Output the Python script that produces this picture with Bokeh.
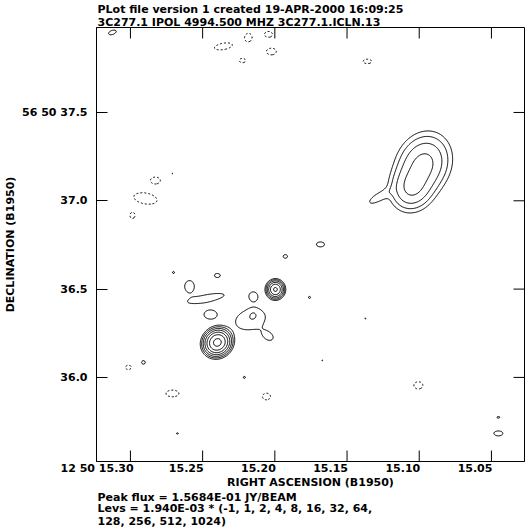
import numpy as np
from bokeh.plotting import figure
from bokeh.models import Range1d, FixedTicker, Title
from bokeh.embed import file_html
from bokeh.resources import INLINE

# ---------------- data ----------------
ra_ticks = [15.30, 15.25, 15.20, 15.15, 15.10, 15.05]
ra_tick_labels = ["12 50 15.30", "15.25", "15.20", "15.15", "15.10", "15.05"]
dec_ticks = [36.0, 36.5, 37.0, 37.5]
dec_tick_labels = ["36.0", "36.5", "37.0", "56 50 37.5"]

peak_flux = 1.5684e-01
base_level = 1.940e-03
level_factors = [-1, 1, 2, 4, 8, 16, 32, 64, 128, 256, 512, 1024]

# emission components read from the map: RA (s of 12h50m), Dec (arcsec of +56d50m),
# peak (in units of the base level), sigma major / minor (arcsec), position angle (deg)
comp_ra = [15.2398, 15.1996, 15.2169, 15.2148, 15.2044, 15.2446, 15.2474, 15.2591,
           15.2398, 15.1927, 15.2148, 15.2702, 15.1684, 15.0971, 15.1054, 15.1283,
           15.3125, 15.2709, 15.2211, 15.2675, 15.0452, 15.0452, 15.1760, 15.1373,
           15.1670, 15.2910,
           15.2183, 15.2044, 15.2356, 15.2024, 15.2224, 15.1359, 15.2827, 15.2896,
           15.2986, 15.3014, 15.2709, 15.2058, 15.1006]
comp_dec = [36.198, 36.498, 36.328, 36.362, 36.232, 36.356, 36.447, 36.515,
            36.577, 36.685, 36.459, 36.594, 36.753, 37.206, 37.070, 37.019,
            37.953, 37.155, 36.000, 35.683, 35.774, 35.683, 36.453, 36.334,
            36.096, 36.085,
            37.925, 37.942, 37.874, 37.845, 37.794, 37.789, 37.115, 37.013,
            36.917, 36.057, 35.909, 35.892, 35.955]
comp_peak = [80.0, 36.0, 1.8, 0.6, 1.25, 1.5, 1.5, 1.6,
             1.4, 1.3, 1.5, 1.1, 1.4, 10.0, 8.0, 1.6,
             1.4, 1.05, 1.1, 1.1, 1.15, 1.4, 1.1, 1.05,
             1.05, 1.2,
             -1.4, -1.4, -1.5, -1.4, -1.3, -1.3, -1.4, -1.5,
             -1.3, -1.3, -1.4, -1.4, -1.4]
comp_smaj = [0.034, 0.023, 0.079, 0.023, 0.040, 0.040, 0.113, 0.034,
             0.020, 0.017, 0.025, 0.014, 0.028, 0.091, 0.068, 0.057,
             0.028, 0.011, 0.014, 0.014, 0.017, 0.031, 0.014, 0.011,
             0.011, 0.017,
             0.028, 0.028, 0.057, 0.034, 0.025, 0.034, 0.034, 0.074,
             0.023, 0.023, 0.045, 0.028, 0.031]
comp_smin = [0.031, 0.022, 0.051, 0.023, 0.028, 0.028, 0.023, 0.028,
             0.014, 0.014, 0.025, 0.014, 0.017, 0.074, 0.062, 0.020,
             0.014, 0.0085, 0.014, 0.0085, 0.0085, 0.017, 0.014, 0.011,
             0.011, 0.017,
             0.025, 0.020, 0.020, 0.023, 0.017, 0.017, 0.023, 0.034,
             0.020, 0.017, 0.023, 0.023, 0.025]
comp_pa = [-50, 0, -75, 0, 60, 90, -79, 0,
           90, 90, 0, 0, 90, -25, -25, -60,
           -70, 90, 0, 90, 90, 90, 0, 0,
           0, 0,
           0, 90, -80, 90, 90, 90, 90, 80,
           0, 90, 90, 90, 90]

# ---------------- geometry ----------------
W, H = 526, 527
RA_LEFT, RA_RIGHT = 15.3235, 15.0271
DEC_BOT, DEC_TOP = 35.524, 37.981
IMG_L, IMG_R, IMG_T, IMG_B = 96, 524, 27, 461   # frame edges in pixels
px_per_ra = (IMG_R - IMG_L) / (RA_LEFT - RA_RIGHT)
px_per_dec = (IMG_B - IMG_T) / (DEC_TOP - DEC_BOT)

# ---------------- map ----------------
ra_scale = 15 * np.cos(np.radians(56 + 50 / 60 + 36.5 / 3600))
ra_grid = np.linspace(RA_RIGHT, RA_LEFT, 560)
dec_grid = np.linspace(DEC_BOT, DEC_TOP, 560)
X, Y = np.meshgrid(ra_grid, dec_grid)
Z = np.zeros_like(X)
for ra0, de0, pk, sa, sb, pa in zip(comp_ra, comp_dec, comp_peak, comp_smaj, comp_smin, comp_pa):
    dx = (X - ra0) * ra_scale
    dy = Y - de0
    t = np.radians(pa)
    u = dx * np.sin(t) + dy * np.cos(t)
    v = dx * np.cos(t) - dy * np.sin(t)
    Z += pk * np.exp(-0.5 * ((u / sa) ** 2 + (v / sb) ** 2))
Z *= base_level

pos_levels = [f * base_level for f in level_factors if f > 0]
neg_levels = [f * base_level for f in level_factors if f < 0]

FONT = "DejaVu Sans"
FS = "11px"

p = figure(width=W, height=H,
           x_range=Range1d(RA_LEFT, RA_RIGHT), y_range=Range1d(DEC_BOT, DEC_TOP),
           output_backend="svg", toolbar_location=None, title_location=None,
           min_border_left=IMG_L, min_border_right=W - IMG_R,
           min_border_top=IMG_T, min_border_bottom=H - IMG_B)
p.outline_line_color = "black"
p.outline_line_width = 1
p.grid.visible = False
p.background_fill_color = "white"
p.border_fill_color = "white"

p.contour(ra_grid, dec_grid, Z, levels=pos_levels, line_color="black", line_width=1)
p.contour(ra_grid, dec_grid, Z, levels=neg_levels, line_color="black", line_width=1,
          line_dash="2 2")

# inward ticks on top, bottom and right edges
tlx = 11 / px_per_ra
tly = 11 / px_per_dec
n = len(ra_ticks)
p.segment(x0=ra_ticks, y0=[DEC_TOP] * n, x1=ra_ticks, y1=[DEC_TOP - tly] * n,
          line_color="black", line_width=1)
p.segment(x0=ra_ticks, y0=[DEC_BOT] * n, x1=ra_ticks, y1=[DEC_BOT + tly] * n,
          line_color="black", line_width=1)
m = len(dec_ticks)
p.segment(x0=[RA_RIGHT] * m, y0=dec_ticks, x1=[RA_RIGHT + tlx] * m, y1=dec_ticks,
          line_color="black", line_width=1)


def font_axis(ax):
    ax.major_label_text_font = FONT
    ax.major_label_text_font_style = "bold"
    ax.major_label_text_font_size = FS
    ax.major_label_text_color = "black"
    ax.axis_label_text_font = FONT
    ax.axis_label_text_font_style = "bold"
    ax.axis_label_text_font_size = FS
    ax.axis_label_text_color = "black"
    ax.minor_tick_line_color = None
    ax.axis_line_color = "black"


# left axis: inward ticks with labels
for ax in p.yaxis:
    font_axis(ax)
    ax.ticker = FixedTicker(ticks=dec_ticks)
    ax.major_label_overrides = {t: s for t, s in zip(dec_ticks, dec_tick_labels)}
    ax.major_tick_in = 11
    ax.major_tick_out = 0
    ax.major_tick_line_color = "black"
    ax.major_label_standoff = 9
    ax.axis_label = "DECLINATION (B1950)"
    ax.axis_label_standoff = 2

# bottom axis: labels right-aligned to their ticks (AIPS style)
ADV = {" ": 0.348, ".": 0.380}
fs_px = 11


def text_w(s):
    return sum(ADV.get(c, 0.696) for c in s) * fs_px


label_pos = []
for t, s in zip(ra_ticks, ra_tick_labels):
    pos = t + (text_w(s) / 2 - 1) / px_per_ra
    pos = min(pos, RA_LEFT - 0.6 / px_per_ra)
    label_pos.append(round(pos, 6))
for ax in p.xaxis:
    font_axis(ax)
    ax.ticker = FixedTicker(ticks=label_pos)
    ax.major_label_overrides = {t: s for t, s in zip(label_pos, ra_tick_labels)}
    ax.major_tick_line_color = None
    ax.major_tick_in = 0
    ax.major_tick_out = 0
    ax.major_label_standoff = 0
    ax.axis_label = "RIGHT ASCENSION (B1950)"
    ax.axis_label_standoff = -2


def title(text, side, standoff):
    p.add_layout(Title(text=text, align="left", offset=1, standoff=standoff,
                       text_font=FONT, text_font_size=FS, text_font_style="bold",
                       text_color="black"), side)


title("PLot file version 1  created 19-APR-2000 16:09:25\n"
      "3C277.1  IPOL  4994.500 MHZ  3C277.1.ICLN.13", "above", -2)

pos_txt = ", ".join(str(f) for f in level_factors[:8])
rest_txt = ", ".join(str(f) for f in level_factors[8:])
# below: first added sits next to the axis
title(f"Peak flux =  {peak_flux:.4E} JY/BEAM", "below", -6)
title(f"Levs = {base_level:.3E} * ({pos_txt},", "below", -2)
title(f"{rest_txt})", "below", -2)

open("out.html", "w").write(file_html(p, INLINE))
